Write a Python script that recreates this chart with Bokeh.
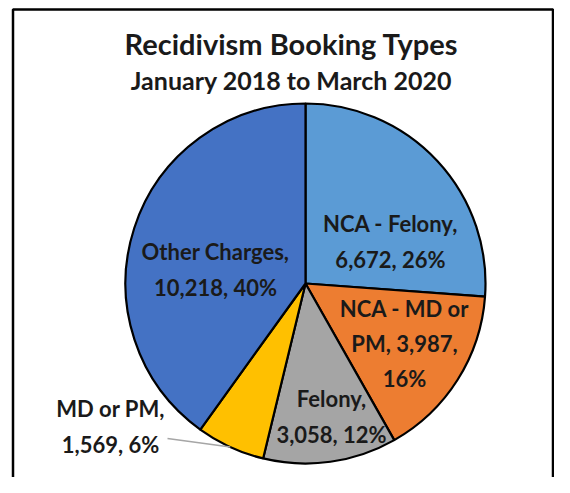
import math
from bokeh.plotting import figure
from bokeh.models import Range1d, ColumnDataSource
from bokeh.core.properties import value
from bokeh.embed import file_html
from bokeh.resources import INLINE

# ---- data ----
categories = ["NCA - Felony", "NCA - MD or PM", "Felony", "MD or PM", "Other Charges"]
counts = [6672, 3987, 3058, 1569, 10218]
percent_labels = ["26%", "16%", "12%", "6%", "40%"]
colors = ["#5B9BD5", "#ED7D31", "#A5A5A5", "#FFC000", "#4472C4"]
label_text = [
    "NCA - Felony,\n6,672, 26%",
    "NCA - MD or\nPM, 3,987,\n16%",
    "Felony,\n3,058, 12%",
    "MD or PM,\n1,569, 6%",
    "Other Charges,\n10,218, 40%",
]
title = "Recidivism Booking Types"
subtitle = "January 2018 to March 2020"

# ---- layout (screen pixels, origin top-left of the figure) ----
W, H = 554, 477
cx, cy_page = 305, 283
R = 180
# label offsets from pie centre in pixels (dx, dy downward)
label_offsets = [(85, -42), (99, 60), (26, 133), (-195, 143), (-90, -14)]

def py(page_y):
    return H - page_y

p = figure(width=W, height=H, output_backend="svg", toolbar_location=None,
           x_range=Range1d(0, W), y_range=Range1d(0, H), min_border=0)
p.axis.visible = False
p.grid.visible = False
p.outline_line_color = None
p.background_fill_color = "white"
p.border_fill_color = "white"

# frame border
p.multi_line(xs=[[12.5, 12.5, 552.5, 552.5]], ys=[[py(600), py(9), py(9), py(600)]],
             line_color="black", line_width=2.5)

total = sum(counts)
starts, ends, mids = [], [], []
cum = 0
for c in counts:
    a0 = math.pi / 2 - 2 * math.pi * cum / total
    cum += c
    a1 = math.pi / 2 - 2 * math.pi * cum / total
    starts.append(a0)
    ends.append(a1)
    mids.append((a0 + a1) / 2)

src = ColumnDataSource(dict(x=[cx] * len(counts), y=[py(cy_page)] * len(counts),
                            start=starts, end=ends, color=colors))
p.wedge(x="x", y="y", radius=R, start_angle="start", end_angle="end",
        direction="clock", fill_color="color", line_color="black",
        line_width=2.2, source=src)

# leader line for small slice
mi = categories.index("MD or PM")
ex = cx + R * math.cos(mids[mi])
ey = py(cy_page) + R * math.sin(mids[mi])
p.line(x=[167, ex], y=[py(438), ey], line_color="#A6A6A6", line_width=1.5)

lx = [cx + dx for dx, dy in label_offsets]
ly = [py(cy_page + dy) for dx, dy in label_offsets]
p.text(x=lx, y=ly, text=label_text, text_align="center", text_baseline="middle",
       text_font=value("Lato"), text_font_style="bold", text_font_size="22px",
       text_line_height=1.3, text_color="#1a1a1a")

p.text(x=[291], y=[py(43)], text=[title], text_align="center", text_baseline="middle",
       text_font=value("Lato"), text_font_style="bold", text_font_size="29px",
       text_color="#1a1a1a")
p.text(x=[291], y=[py(79)], text=[subtitle], text_align="center", text_baseline="middle",
       text_font=value("Lato"), text_font_style="bold", text_font_size="25px",
       text_color="#1a1a1a")

open("out.html", "w").write(file_html(p, INLINE))
